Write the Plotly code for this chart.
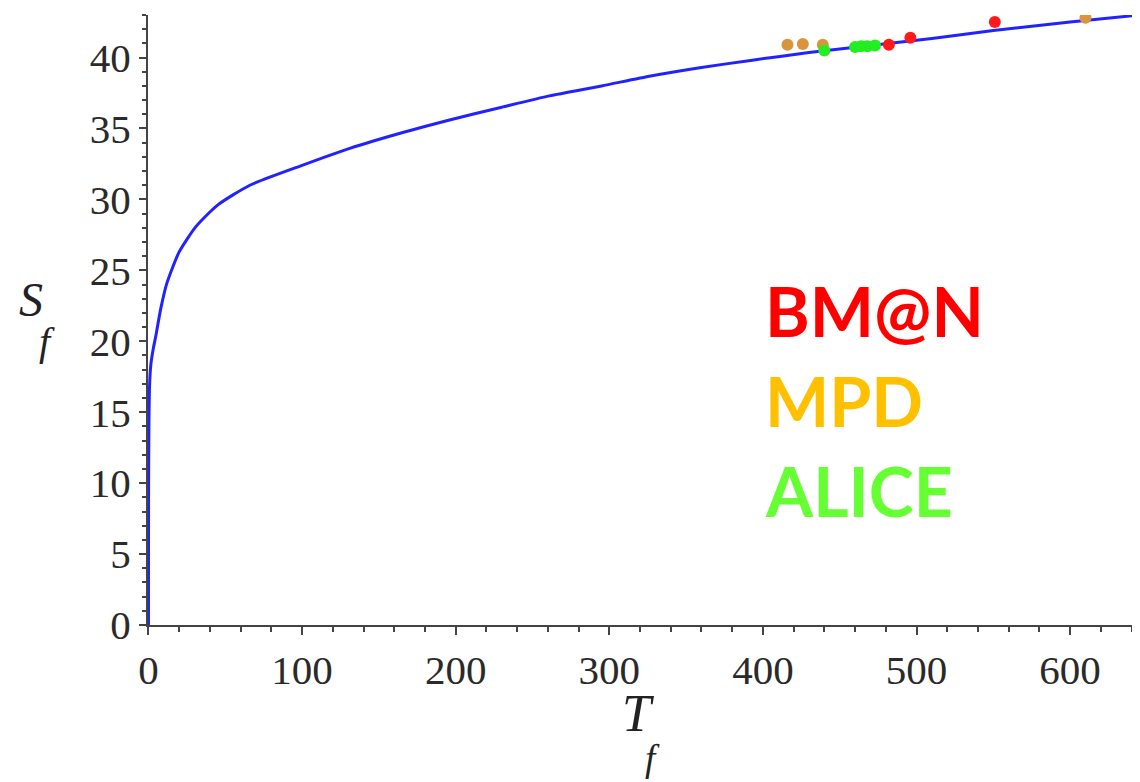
import plotly.graph_objects as go

# Curve S_f(T_f), values
curve_T = [0, 0.02, 0.1, 0.3, 0.7, 1.5, 3, 5, 8, 12, 20, 31, 45, 66, 100, 131, 165, 196, 230, 261, 295, 327, 360, 392, 430, 470, 510, 550, 600, 645]
curve_S = [0, 5, 10, 14, 16.8, 18.3, 19.4, 20.5, 22.3, 24.1, 26.3, 28.1, 29.6, 31.0, 32.4, 33.6, 34.7, 35.6, 36.5, 37.3, 38.0, 38.7, 39.3, 39.8, 40.35, 40.85, 41.35, 41.9, 42.5, 43.0]

# Experiment points
bman_T = [482, 496, 551]
bman_S = [40.9, 41.4, 42.5]
mpd_T = [416, 426, 439, 610]
mpd_S = [40.9, 40.95, 40.9, 42.8]
alice_T = [440, 460, 464, 468, 473]
alice_S = [40.5, 40.75, 40.8, 40.8, 40.85]

legend_labels = ["BM@N", "MPD", "ALICE"]
legend_colors = ["#ff0000", "#ffc000", "#66ff33"]

x_ticks = [0, 100, 200, 300, 400, 500, 600]
y_ticks = [0, 5, 10, 15, 20, 25, 30, 35, 40]

fig = go.Figure()
fig.add_trace(go.Scatter(x=curve_T, y=curve_S, mode="lines", line=dict(color="#2222ff", width=3, shape="spline", smoothing=0.6), hoverinfo="skip"))
fig.add_trace(go.Scatter(x=mpd_T, y=mpd_S, mode="markers", marker=dict(color="#d9953b", size=12)))
fig.add_trace(go.Scatter(x=alice_T, y=alice_S, mode="markers", marker=dict(color="#22ee22", size=12)))
fig.add_trace(go.Scatter(x=bman_T, y=bman_S, mode="markers", marker=dict(color="#ff1a1a", size=12)))

axis_col = "#444444"
tickfont = dict(family="Liberation Serif", size=41, color="#2a2a2a")

# page body has an 8px offset; figure sized so it fits the window exactly
fig.update_layout(
    width=1132, height=774,
    margin=dict(l=140, r=0, t=7, b=157, pad=0),
    paper_bgcolor="white", plot_bgcolor="white",
    showlegend=False,
    xaxis=dict(range=[-0.3, 645.5], tickvals=x_ticks, showgrid=False, zeroline=False, automargin=False,
               showline=True, linecolor=axis_col, linewidth=2,
               ticks="outside", ticklen=8, tickwidth=1.5, tickcolor=axis_col,
               minor=dict(dtick=20, tick0=0, ticks="outside", ticklen=5, tickwidth=1.5, tickcolor=axis_col),
               tickfont=tickfont),
    yaxis=dict(range=[0, 43], tickvals=y_ticks, showgrid=False, zeroline=False, automargin=False,
               showline=True, linecolor=axis_col, linewidth=2,
               ticks="outside", ticklen=7, tickwidth=1.5, tickcolor=axis_col,
               minor=dict(dtick=1, tick0=0, ticks="outside", ticklen=4, tickwidth=1.5, tickcolor=axis_col),
               tickfont=tickfont),
)

yc = [22.2, 15.8, 9.5]
for lab, col, yv in zip(legend_labels, legend_colors, yc):
    fig.add_annotation(x=400, y=yv, xref="x", yref="y", text=lab, showarrow=False,
                       xanchor="left", yanchor="middle",
                       font=dict(family="Lato", size=68, color=col, weight="bold"))

pw = 992.0
ph = 610.0
serif_it = "Liberation Serif"
fig.add_annotation(x=(638 - 148) / pw, y=(625 - 713) / ph, xref="paper", yref="paper", text="<i>T</i>", showarrow=False,
                   xanchor="center", yanchor="middle", font=dict(family=serif_it, size=52, color="#222222"))
fig.add_annotation(x=(652 - 148) / pw, y=(625 - 758) / ph, xref="paper", yref="paper", text="<i>f</i>", showarrow=False,
                   xanchor="center", yanchor="middle", font=dict(family=serif_it, size=37, color="#222222"))
fig.add_annotation(x=(31 - 148) / pw, y=(625 - 299) / ph, xref="paper", yref="paper", text="<i>S</i>", showarrow=False,
                   xanchor="center", yanchor="middle", font=dict(family=serif_it, size=48, color="#222222"))
fig.add_annotation(x=(47 - 148) / pw, y=(625 - 341) / ph, xref="paper", yref="paper", text="<i>f</i>", showarrow=False,
                   xanchor="center", yanchor="middle", font=dict(family=serif_it, size=40, color="#222222"))

fig.write_html("out.html")
